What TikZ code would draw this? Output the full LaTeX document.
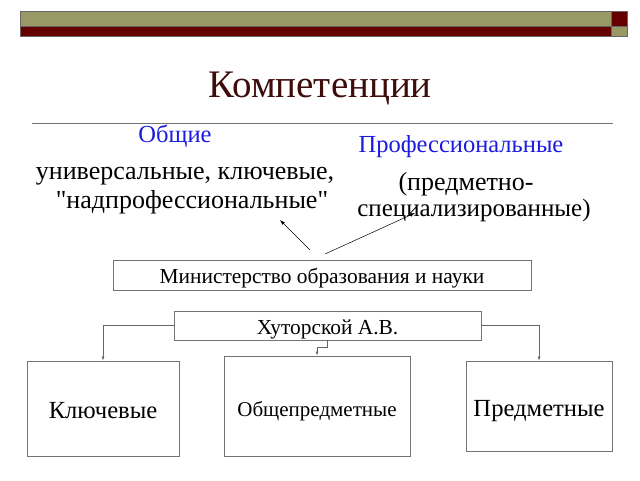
\documentclass[tikz,border=0pt]{standalone}
\usepackage{fontspec}
\setmainfont{Liberation Serif}[Ligatures=TeXOff]
\usetikzlibrary{arrows.meta}
\definecolor{olive}{HTML}{999966}
\definecolor{maroon}{HTML}{660000}
\definecolor{titlec}{HTML}{3F0C0C}
\definecolor{bluec}{HTML}{1A1AE0}
\tikzset{
  box/.style={draw=black!55, line width=0.8pt, inner sep=0pt},
  low/.style={text height=#1, text depth=0pt},
  conn/.style={draw=black!60, line width=0.7pt, -{Latex[length=4pt,width=3pt]}},
  pointer/.style={draw=black, line width=0.5pt, -{Latex[length=5pt,width=3.5pt]}},
}
\begin{document}
\begin{tikzpicture}[x=1pt,y=-1pt]
\useasboundingbox (0,0) rectangle (640,480);
% top bars
\draw[fill=olive, draw=black!60, line width=0.6pt] (20,11) rectangle (611,26);
\draw[fill=maroon, draw=black!60, line width=0.6pt] (20,26) rectangle (611,36);
\draw[fill=maroon, draw=black!60, line width=0.6pt] (611,11) rectangle (627,26);
\draw[fill=olive, draw=black!60, line width=0.6pt] (611,26) rectangle (627,36);
% title
\node[text=titlec, font=\fontsize{39}{42}\selectfont] (title) at (320,88) {Компетенции};
\draw[black!55, line width=1pt] (32,123) -- (613,123);
% headings
\node[text=bluec, font=\fontsize{24.5}{26}\selectfont] (gen) at (175,136) {Общие};
\node[text=bluec, font=\fontsize{24.5}{26}\selectfont] (prof) at (461,147) {Профессиональные};
\node[font=\fontsize{26}{28}\selectfont] (gen1) at (185,176) {универсальные, ключевые,};
\node[font=\fontsize{26}{28}\selectfont] (gen2) at (192,202) {"надпрофессиональные"};
\node[font=\fontsize{26}{28}\selectfont] (prof1) at (466,184) {(предметно-};
\node[font=\fontsize{25}{27}\selectfont] (prof2) at (474,210) {специализированные)};
% boxes
\node[box, low=16pt, minimum width=418pt, minimum height=30pt, font=\fontsize{21.4}{23}\selectfont] (min) at (322,275) {Министерство образования и науки};
\node[box, low=18pt, minimum width=307pt, minimum height=29pt, font=\fontsize{21.4}{23}\selectfont] (hut) at (327.5,325.5) {Хуторской А.В.};
\node[box, low=20pt, minimum width=152pt, minimum height=95pt, font=\fontsize{24.6}{26}\selectfont] (key) at (103,408.5) {Ключевые};
\node[box, low=20pt, minimum width=186pt, minimum height=100pt, font=\fontsize{21}{23}\selectfont] (obs) at (317,406) {Общепредметные};
\node[box, low=21pt, minimum width=146pt, minimum height=90pt, font=\fontsize{24.6}{26}\selectfont] (pred) at (539,406) {Предметные};
% pointers
\coordinate (p1s) at (310,250);
\coordinate (p1e) at (280,220);
\coordinate (p2s) at (325,254);
\coordinate (p2e) at (415,213);
\draw[pointer] (p1s) -- (p1e);
\draw[pointer] (p2s) -- (p2e);
% connectors
\draw[conn] (hut.west) -| (key.north);
\draw[conn] (hut.east) -| (pred.north);
\draw[conn] (hut.south) -- ++(0,7) -| (obs.north);
\end{tikzpicture}
\end{document}
